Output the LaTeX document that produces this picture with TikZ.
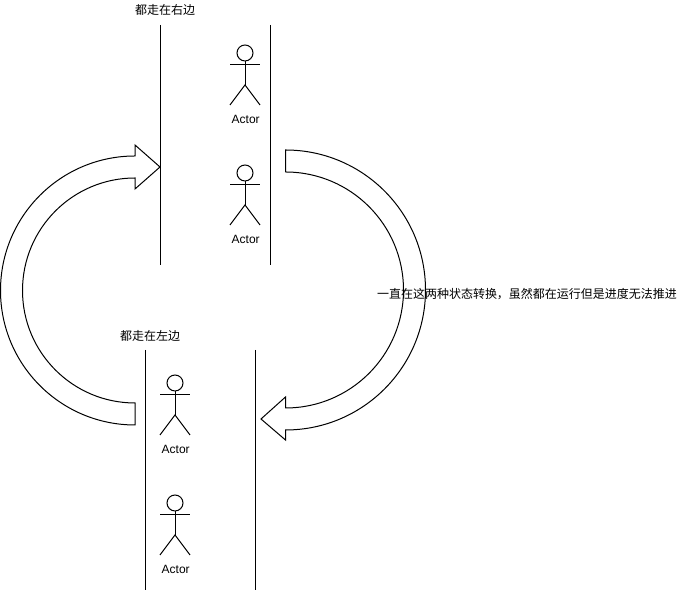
\documentclass[tikz,border=0pt]{standalone}
\usepackage{fontspec}
\setmainfont{Liberation Sans}
\newfontfamily\cjk{Noto Sans CJK SC}
\tikzset{
	lane/.style={line width=0.75pt},
	bigarrow/.style={draw,line width=0.75pt,fill=white,line join=miter},
	zhlabel/.style={font=\cjk\fontsize{9}{11}\selectfont,inner sep=0pt},
	actorlabel/.style={font=\fontsize{9}{11}\selectfont,inner sep=0pt}
}
\begin{document}
\begin{tikzpicture}[x=0.75pt,y=0.75pt]
	\useasboundingbox (0,0) rectangle (687,591);
	% big arrows
	\draw[bigarrow] (285.5,441) arc (90:-90:140) -- (285.5,151) -- (261,172) -- (285.5,194) -- (285.5,183) arc (-90:90:118) -- cycle;
	\draw[bigarrow] (135,166) arc (-90:-270:134.5) -- (135,446) -- (160,424) -- (135,402) -- (135,413) arc (90:270:112.5) -- cycle;
	% lanes
	\coordinate (rt1) at (160,566);
	\coordinate (rb1) at (160,326);
	\coordinate (rt2) at (270,566);
	\coordinate (rb2) at (270,326);
	\coordinate (lt1) at (145,241);
	\coordinate (lb1) at (145,1);
	\coordinate (lt2) at (255,241);
	\coordinate (lb2) at (255,1);
	\draw[lane](rt1)--(rb1);
	\draw[lane](rt2)--(rb2);
	\draw[lane](lt1)--(lb1);
	\draw[lane](lt2)--(lb2);
	% actors
	\foreach \px/\py/\nm in {245/538/a,245/418/b,175/208/c,175/88/d}{
		\node[draw,circle,line width=0.75pt,minimum size=12pt,inner sep=0pt] (head\nm) at (\px,\py) {};
		\coordinate (hip\nm) at (\px,\py-32);
		\draw[lane](head\nm.south)--(hip\nm);
		\draw[lane](\px-15,\py-12)--(\px+15,\py-12);
		\draw[lane](\px-15,\py-52)--(hip\nm)--(\px+15,\py-52);
		\node[actorlabel] (label\nm) at (\px+0.7,\py-66) {Actor};
	}
	% texts
	\node[zhlabel] (rightlabel) at (165,581) {都走在右边};
	\node[zhlabel] (leftlabel) at (150,255) {都走在左边};
	\node[zhlabel] (looplabel) at (527,297) {一直在这两种状态转换，虽然都在运行但是进度无法推进};
\end{tikzpicture}
\end{document}
